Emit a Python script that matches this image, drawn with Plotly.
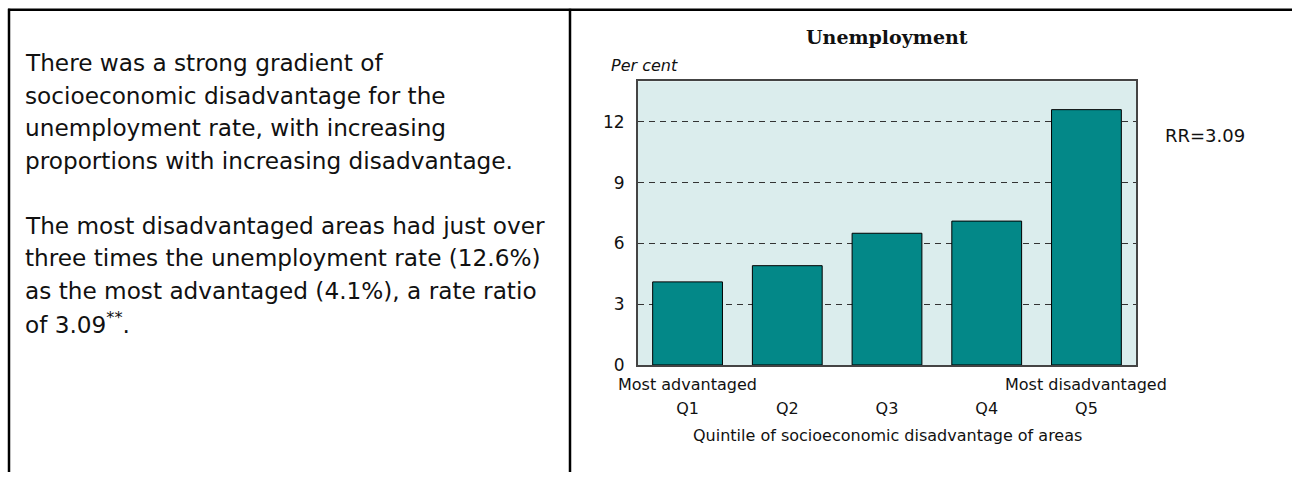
import plotly.graph_objects as go

# ---- data ----
categories = ["Q1", "Q2", "Q3", "Q4", "Q5"]
unemployment_pct = [4.1, 4.9, 6.5, 7.1, 12.6]
y_ticks = [0, 3, 6, 9, 12]
end_labels = {"Q1": "Most advantaged", "Q5": "Most disadvantaged"}
chart_title = "Unemployment"
y_label = "Per cent"
x_label = "Quintile of socioeconomic disadvantage of areas"
rr_label = "RR=3.09"
text_lines = [
    "There was a strong gradient of",
    "socioeconomic disadvantage for the",
    "unemployment rate, with increasing",
    "proportions with increasing disadvantage.",
    "",
    "The most disadvantaged areas had just over",
    "three times the unemployment rate (12.6%)",
    "as the most advantaged (4.1%), a rate ratio",
    "of 3.09<sup>**</sup>.",
]

W, H = 1292, 482


def px(x):
    return x / W


def py(y):
    return 1 - y / H


FONT = "DejaVu Sans"
TEAL = "#038888"
BG = "#DBEDED"

fig = go.Figure()
fig.add_trace(go.Bar(
    x=categories, y=unemployment_pct,
    marker=dict(color=TEAL, line=dict(color="#000000", width=1)),
    width=0.7, showlegend=False, hoverinfo="x+y",
))

annotations = []
# left text
y0, lh = 64, 33.2
for i, line in enumerate(text_lines):
    if not line:
        continue
    annotations.append(dict(
        text=line, x=px(23), y=py(y0 + i * lh), xref="paper", yref="paper",
        xanchor="left", yanchor="middle", showarrow=False,
        font=dict(family=FONT, size=23.2, color="#111111"),
    ))

annotations += [
    dict(text="<b>" + chart_title + "</b>", x=px(887), y=py(38), xref="paper", yref="paper",
         xanchor="center", yanchor="middle", showarrow=False,
         font=dict(family="DejaVu Serif", size=19, color="#111111")),
    dict(text="<i>" + y_label + "</i>", x=px(609), y=py(67), xref="paper", yref="paper",
         xanchor="left", yanchor="middle", showarrow=False,
         font=dict(family=FONT, size=16, color="#111111")),
    dict(text=rr_label, x=px(1163), y=py(138), xref="paper", yref="paper",
         xanchor="left", yanchor="middle", showarrow=False,
         font=dict(family=FONT, size=18, color="#111111")),
    dict(text=x_label, x=px(887), y=py(445), xref="paper", yref="paper",
         xanchor="center", yanchor="middle", showarrow=False,
         font=dict(family=FONT, size=16, color="#111111")),
]
for cat, lab in end_labels.items():
    annotations.append(dict(
        text=lab, x=cat, y=py(393), xref="x", yref="paper",
        xanchor="center", yanchor="middle", showarrow=False,
        font=dict(family=FONT, size=16, color="#111111"),
    ))

shapes = [
    dict(type="line", xref="paper", yref="paper", x0=px(8), x1=1.0, y0=py(10), y1=py(10),
         line=dict(color="#000000", width=2.5)),
    dict(type="line", xref="paper", yref="paper", x0=px(9), x1=px(9), y0=py(9), y1=0,
         line=dict(color="#000000", width=2.5)),
    dict(type="line", xref="paper", yref="paper", x0=px(570), x1=px(570), y0=py(9), y1=0,
         line=dict(color="#000000", width=2.5)),
]

fig.update_layout(
    width=W, height=H,
    margin=dict(l=0, r=0, t=0, b=0),
    paper_bgcolor="white", plot_bgcolor=BG,
    bargap=0.3,
    annotations=annotations, shapes=shapes,
    xaxis=dict(
        domain=[px(637.7), px(1136.3)], range=[-0.5, 4.5],
        showgrid=False, showline=True, linecolor="#444444", linewidth=1.5, mirror=True,
        ticks="", ticklabelstandoff=28,
        tickfont=dict(family=FONT, size=16, color="#111111"),
    ),
    yaxis=dict(
        domain=[py(372.7), py(83)], range=[0, 14],
        tickvals=y_ticks, ticktext=[str(v) for v in y_ticks],
        showgrid=True, gridcolor="#333333", griddash="6px,5px", gridwidth=1.2,
        zeroline=False,
        showline=True, linecolor="#444444", linewidth=1.5, mirror=True,
        ticks="", ticklabelstandoff=8,
        tickfont=dict(family=FONT, size=17, color="#111111"),
    ),
)

fig.write_html(
    "out.html",
    config={"displayModeBar": False},
    post_script="document.body.style.margin='0';document.body.style.padding='0';"
                "document.body.style.overflow='hidden';",
)
